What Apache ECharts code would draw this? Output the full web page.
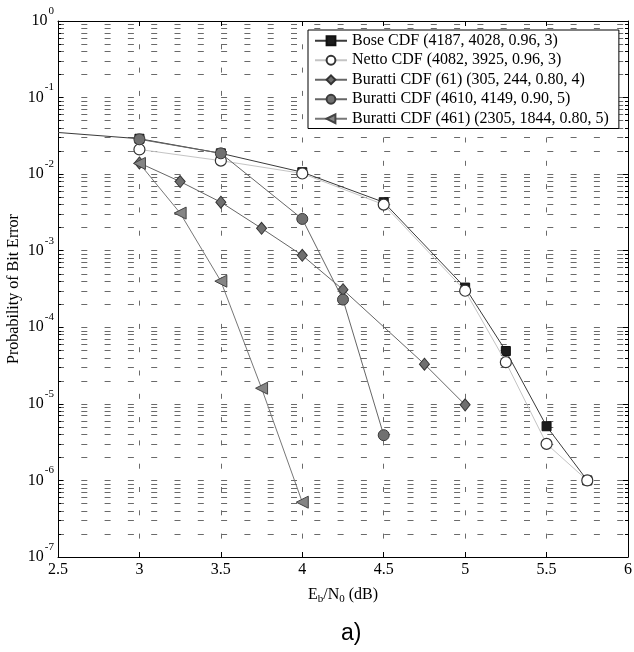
<!DOCTYPE html>
<html>
<head>
<meta charset="utf-8">
<script src="https://cdn.jsdelivr.net/npm/echarts@6/dist/echarts.min.js"></script>
<style>
  html, body { margin: 0; padding: 0; background: #fff; }
  #chart { width: 634px; height: 652px; }
</style>
</head>
<body>
<div id="chart"></div>
<script>
// Eb/N0 (dB) values and measured bit error probabilities for each code
const boseX   = [2.5, 3.0, 3.5, 4.0, 4.5, 5.0, 5.25, 5.5, 5.75];
const boseY   = [0.035, 0.029, 0.0187, 0.0106, 0.0043, 3.3e-4, 4.9e-5, 5.1e-6, 1.0e-6];

const nettoX  = [3.0, 3.5, 4.0, 4.5, 5.0, 5.25, 5.5, 5.75];
const nettoY  = [0.021, 0.015, 0.0102, 0.0040, 3.0e-4, 3.5e-5, 3.0e-6, 1.0e-6];

const bur61X  = [3.0, 3.25, 3.5, 3.75, 4.0, 4.25, 4.75, 5.0];
const bur61Y  = [0.014, 8.0e-3, 4.3e-3, 1.96e-3, 8.7e-4, 3.1e-4, 3.3e-5, 9.7e-6];

const bur4610X = [3.0, 3.5, 4.0, 4.25, 4.5];
const bur4610Y = [0.0285, 0.0187, 2.6e-3, 2.3e-4, 3.9e-6];

const bur461X = [3.0, 3.25, 3.5, 3.75, 4.0];
const bur461Y = [0.0138, 3.1e-3, 4.0e-4, 1.6e-5, 5.2e-7];

const seriesNames = [
  'Bose CDF (4187, 4028, 0.96, 3)',
  'Netto CDF (4082, 3925, 0.96, 3)',
  'Buratti CDF (61) (305, 244, 0.80, 4)',
  'Buratti CDF (4610, 4149, 0.90, 5)',
  'Buratti CDF (461) (2305, 1844, 0.80, 5)'
];

// Axis ranges and titles
const xMin = 2.5, xMax = 6, xStep = 0.5;
const yMin = 1e-7, yMax = 1;
const xAxisTitle = 'E{sub|b}/N{sub|0} (dB)';
const yAxisTitle = 'Probability of Bit Error';
const panelLabel = 'a)';

const SERIF = '"Liberation Serif", "Times New Roman", serif';

function pairs(xs, ys) {
  return xs.map((x, i) => [x, ys[i]]);
}

// the first Bose point only carries the line in from the left edge
const boseData = pairs(boseX, boseY).map((p, i) =>
  i === 0 ? { value: p, symbol: 'none' } : p);

const gridDashH = [6, 17.3];
const gridDashV = [5, 18.3];
const gridColor = '#6a6a6a';

const chart = echarts.init(document.getElementById('chart'), null, { renderer: 'canvas' });

const option = {
  backgroundColor: '#fff',
  animation: false,
  grid: { left: 58, right: 6, top: 21, bottom: 95, containLabel: false, outerBoundsMode: 'none' },
  legend: {
    orient: 'vertical',
    left: 308,
    top: 30,
    padding: [1, 10, 0, 6],
    itemGap: 0,
    itemWidth: 32,
    itemHeight: 11,
    backgroundColor: '#fff',
    borderColor: '#000',
    borderWidth: 1,
    borderRadius: 0,
    textStyle: { fontFamily: SERIF, fontSize: 16, lineHeight: 19.5, color: '#000' },
    data: seriesNames
  },
  xAxis: [{
    type: 'value',
    min: xMin, max: xMax, interval: xStep,
    name: xAxisTitle,
    nameLocation: 'middle',
    nameGap: 27,
    nameMoveOverlap: false,
    nameTextStyle: {
      fontFamily: SERIF, fontSize: 16, color: '#000',
      rich: { sub: { fontFamily: SERIF, fontSize: 11, padding: [10, 0, 0, 0] } }
    },
    axisLine: { show: true, onZero: false, lineStyle: { color: '#000', width: 1 } },
    axisTick: { show: true, inside: true, length: 5, lineStyle: { color: '#000' } },
    axisLabel: {
      fontFamily: SERIF, fontSize: 16, color: '#000', margin: 5,
      formatter: v => String(v)
    },
    splitLine: { show: true, lineStyle: { color: gridColor, width: 1, type: gridDashV } }
  }, {
    type: 'value', position: 'top',
    min: xMin, max: xMax, interval: xStep,
    axisLine: { show: true, onZero: false, lineStyle: { color: '#000', width: 1 } },
    axisTick: { show: true, inside: true, length: 5, lineStyle: { color: '#000' } },
    axisLabel: { show: false },
    splitLine: { show: false }
  }],
  yAxis: [{
    type: 'log', logBase: 10,
    min: yMin, max: yMax,
    name: yAxisTitle,
    nameLocation: 'middle',
    nameGap: 36,
    nameRotate: 90,
    nameMoveOverlap: false,
    nameTextStyle: { fontFamily: SERIF, fontSize: 16, color: '#000' },
    axisLine: { show: true, onZero: false, lineStyle: { color: '#000', width: 1 } },
    axisTick: { show: true, inside: true, length: 5, lineStyle: { color: '#000' } },
    minorTick: { show: true, splitNumber: 9, length: 3, lineStyle: { color: '#000' } },
    axisLabel: {
      margin: 4,
      formatter: v => '{b|10}{e|' + Math.round(Math.log10(v)) + '}',
      rich: {
        b: { fontFamily: SERIF, fontSize: 16, color: '#000' },
        e: { fontFamily: SERIF, fontSize: 11, color: '#000', padding: [0, 0, 20, 1] }
      }
    },
    splitLine: { show: true, lineStyle: { color: gridColor, width: 1, type: gridDashH } },
    minorSplitLine: { show: true, lineStyle: { color: gridColor, width: 1, type: gridDashH } }
  }, {
    type: 'log', logBase: 10, position: 'right',
    min: yMin, max: yMax,
    axisLine: { show: true, onZero: false, lineStyle: { color: '#000', width: 1 } },
    axisTick: { show: true, inside: true, length: 5, lineStyle: { color: '#000' } },
    minorTick: { show: true, splitNumber: 9, length: 3, lineStyle: { color: '#000' } },
    axisLabel: { show: false },
    splitLine: { show: false }
  }],
  series: [{
    name: seriesNames[0], type: 'line',
    data: boseData,
    symbol: 'rect', symbolSize: 9,
    itemStyle: { color: '#1c1c1c', borderColor: '#111', borderWidth: 1 },
    lineStyle: { color: '#3a3a3a', width: 1 },
    z: 2
  }, {
    name: seriesNames[1], type: 'line',
    data: pairs(nettoX, nettoY),
    symbol: 'circle', symbolSize: 11,
    itemStyle: { color: '#fff', borderColor: '#333', borderWidth: 1.2 },
    lineStyle: { color: '#c4c4c4', width: 1 },
    z: 3
  }, {
    name: seriesNames[2], type: 'line',
    data: pairs(bur61X, bur61Y),
    symbol: 'diamond', symbolSize: [10, 12],
    itemStyle: { color: '#6f6f6f', borderColor: '#333', borderWidth: 1 },
    lineStyle: { color: '#666', width: 1 },
    z: 4
  }, {
    name: seriesNames[3], type: 'line',
    data: pairs(bur4610X, bur4610Y),
    symbol: 'circle', symbolSize: 11,
    itemStyle: { color: '#707070', borderColor: '#3a3a3a', borderWidth: 1 },
    lineStyle: { color: '#666', width: 1 },
    z: 5
  }, {
    name: seriesNames[4], type: 'line',
    data: pairs(bur461X, bur461Y),
    symbol: 'triangle', symbolSize: 12, symbolRotate: 90,
    itemStyle: { color: '#858585', borderColor: '#444', borderWidth: 1 },
    lineStyle: { color: '#777', width: 1 },
    z: 6
  }],
  graphic: [{
    type: 'text',
    left: 341, top: 622,
    style: { text: panelLabel, fontFamily: '"Liberation Sans", Arial, sans-serif', fontSize: 23, fill: '#000' }
  }]
};

chart.setOption(option);
</script>
</body>
</html>
